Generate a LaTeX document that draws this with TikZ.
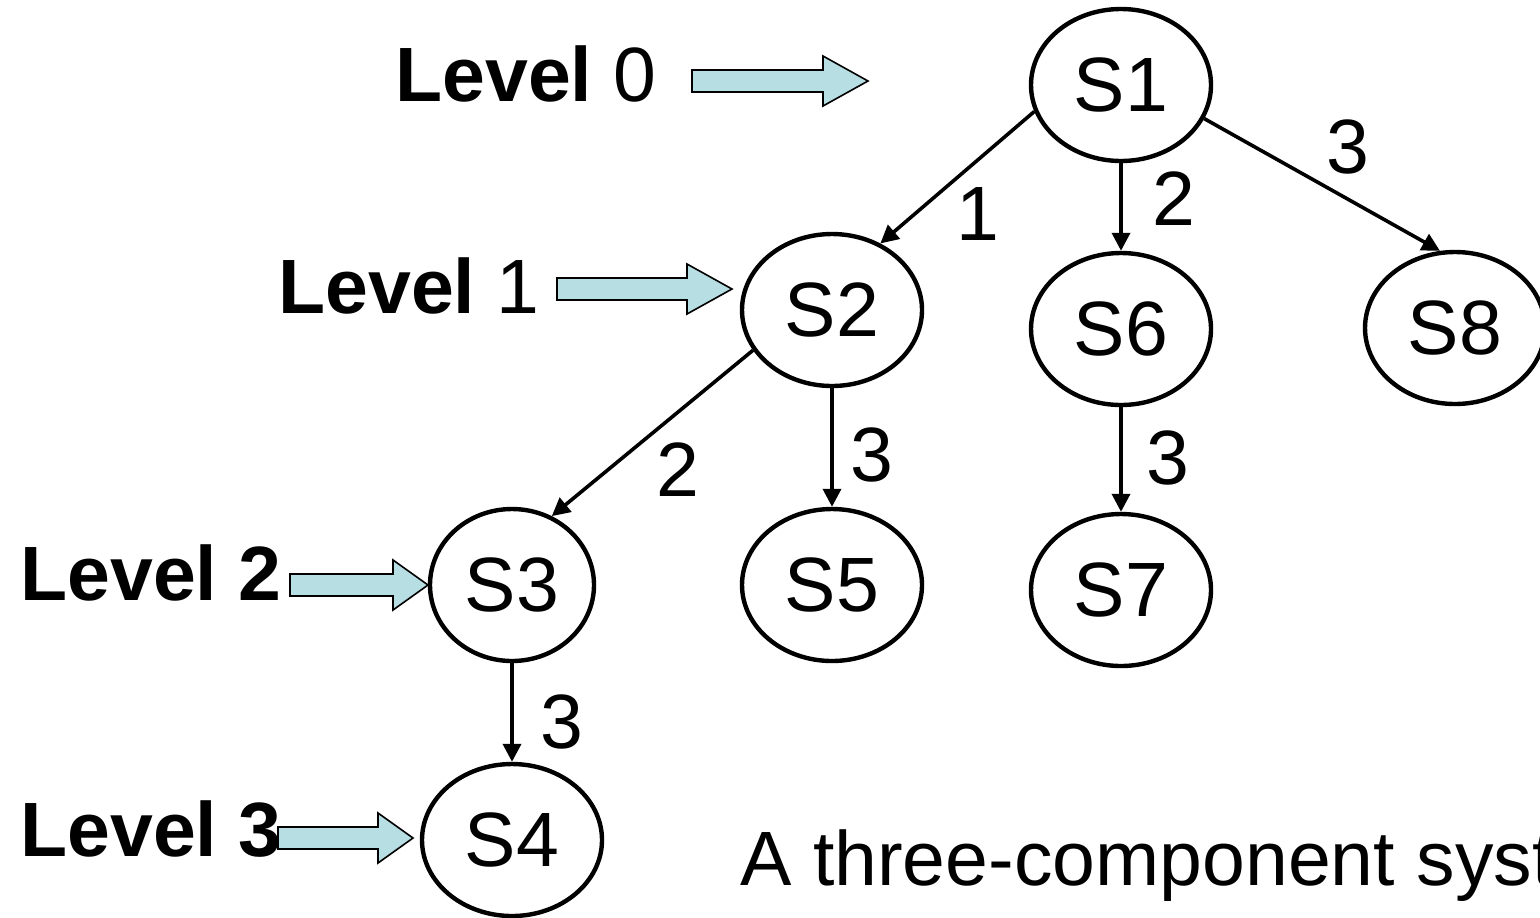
\documentclass[tikz,border=0pt]{standalone}
\usepackage{fontspec}
\setmainfont{Liberation Sans}
\usetikzlibrary{shapes.geometric,arrows.meta}
\definecolor{arrowfill}{RGB}{183,222,226}
\tikzset{
  state/.style={draw,ellipse,line width=2.2pt,minimum width=90pt,minimum height=76pt,inner sep=0pt},
  link/.style={-{Triangle[length=9pt,width=9pt]},line width=1.8pt},
  levelarrow/.style={draw,fill=arrowfill,line width=0.8pt},
  lvl/.style={anchor=base west,inner sep=0pt},
}
% block arrow: tail x, tip x, centre y, head length
\newcommand{\levelarrow}[4]{%
  \draw[levelarrow] (#1,#3-11) -- (#2-#4,#3-11) -- (#2-#4,#3-25) -- (#2,#3)
    -- (#2-#4,#3+25) -- (#2-#4,#3+11) -- (#1,#3+11) -- cycle;}
\begin{document}
\begin{tikzpicture}[x=0.5pt,y=-0.5pt,every node/.style={font=\fontsize{38.5}{46}\selectfont}]
            \useasboundingbox (0,0) rectangle (1540,917);
            \clip (0,0) rectangle (1540,917);
            \node[state] (S1) at (1121,85) {S1};
            \node[state] (S2) at (832,310) {S2};
            \node[state] (S6) at (1121,329) {S6};
            \node[state] (S8) at (1455,328) {S8};
            \node[state,minimum width=82pt] (S3) at (512,585) {S3};
            \node[state] (S5) at (832,585) {S5};
            \node[state] (S7) at (1121,590) {S7};
            \node[state] (S4) at (512,840) {S4};
            \draw[link] (S1.197) -- (S2.54);
            \draw[link] (S1.south) -- (S6.north);
            \draw[link] (S1.338) -- (S8.101);
            \draw[link] (S2.207) -- (S3.60);
            \draw[link] (S2.south) -- (S5.north);
            \draw[link] (S6.south) -- (S7.north);
            \draw[link] (S3.south) -- (S4.north);
            \node (w1) at (978,214) {1};
            \node (w2) at (1174,199) {2};
            \node (w3) at (1348,147) {3};
            \node (w4) at (678,470) {2};
            \node (w5) at (872,455) {3};
            \node (w6) at (1168,458) {3};
            \node (w7) at (562,722) {3};
            \node[lvl] (L0) at (395,101) {\textbf{Level} 0};
            \node[lvl] (L1) at (278,313) {\textbf{Level} 1};
            \node[lvl] (L2) at (20,600) {\textbf{Level 2}};
            \node[lvl] (L3) at (20,856) {\textbf{Level 3}};
            \levelarrow{692}{868}{81}{45}
            \levelarrow{557}{732}{289}{45}
            \levelarrow{290}{428}{585}{35}
            \levelarrow{278}{413}{838}{35}
            \node[lvl] (cap) at (740,885) {A three-component system};
        \end{tikzpicture}
\end{document}
